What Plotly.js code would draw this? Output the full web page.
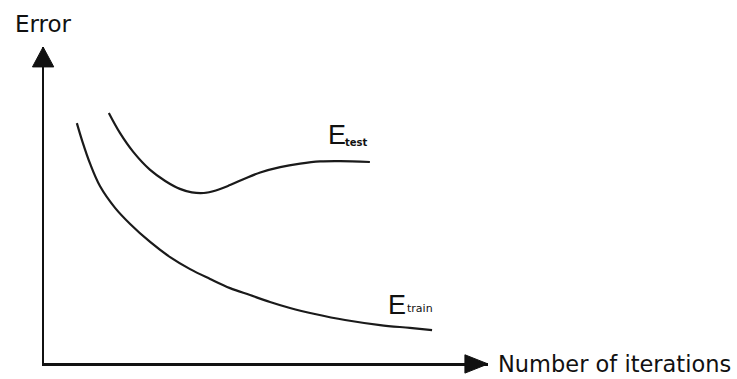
<!DOCTYPE html>
<html>
<head>
<meta charset="utf-8">
<script src="https://cdn.plot.ly/plotly-3.0.1.min.js"></script>
<style>
html,body{margin:0;padding:0;background:#fff;}
#chart{width:737px;height:379px;}
</style>
</head>
<body>
<div id="chart"></div>
<script>
// Values (arbitrary units, 0-100 on both axes)
var trainIterations = [7.4, 8.6, 10.4, 12.6, 16.0, 19.4, 23.9, 28.4, 32.9, 37.4, 41.9, 46.4, 50.9, 55.4, 61.0, 67.8, 75.7, 82.4, 87.4];
var trainError      = [75.9, 70.3, 63.0, 56.0, 49.1, 44.0, 38.3, 33.5, 29.7, 26.6, 23.7, 21.5, 19.3, 17.4, 15.5, 13.6, 12.0, 11.1, 10.4];

var testIterations  = [14.6, 17.1, 20.1, 23.9, 27.3, 30.6, 33.3, 36.0, 38.7, 41.9, 45.3, 48.7, 53.2, 57.7, 62.2, 66.7, 73.4];
var testError       = [79.1, 72.8, 66.8, 61.1, 57.6, 55.1, 54.0, 53.8, 54.6, 56.3, 58.4, 60.3, 62.0, 63.1, 63.8, 63.9, 63.6];

var xAxisLabel = "Number of iterations";
var yAxisLabel = "Error";
var trainLabel = ["E", "train"];
var testLabel  = ["E", "test"];

var lineStyle = {color: '#1a1a1a', width: 2.2, shape: 'spline', smoothing: 1};

var traces = [
  {x: trainIterations, y: trainError, mode: 'lines', line: lineStyle, name: 'E train', hoverinfo: 'skip'},
  {x: testIterations,  y: testError,  mode: 'lines', line: lineStyle, name: 'E test',  hoverinfo: 'skip'}
];

var axisCommon = {
  range: [0, 100], showline: true, linecolor: '#111', linewidth: 2.5,
  showgrid: false, zeroline: false, showticklabels: false, ticks: '', fixedrange: true
};

var txt = '#111';
var layout = {
  width: 737, height: 379,
  margin: {l: 44, r: 249, t: 47, b: 16},
  paper_bgcolor: '#fff', plot_bgcolor: '#fff',
  showlegend: false,
  xaxis: axisCommon,
  yaxis: axisCommon,
  shapes: [
    {type: 'path', xref: 'paper', yref: 'paper', path: 'M 0.948 0.026 L 1.0 -0.003 L 0.948 -0.032 Z',
     fillcolor: '#111', line: {color: '#111', width: 1}},
    {type: 'path', xref: 'paper', yref: 'paper', path: 'M -0.026 0.937 L -0.002 1.0 L 0.022 0.937 Z',
     fillcolor: '#111', line: {color: '#111', width: 1}}
  ],
  annotations: [
    {text: yAxisLabel, xref: 'paper', yref: 'paper', x: -0.001, y: 1.073, xanchor: 'center', yanchor: 'middle',
     showarrow: false, font: {family: 'DejaVu Sans', size: 23, color: txt}},
    {text: xAxisLabel, xref: 'paper', yref: 'paper', x: 1.019, y: -0.004, xanchor: 'left', yanchor: 'middle',
     showarrow: false, font: {family: 'DejaVu Sans', size: 22.5, color: txt}},
    {text: testLabel[0], xref: 'paper', yref: 'paper', x: 0.636, y: 0.7215, xanchor: 'left', yanchor: 'middle',
     showarrow: false, font: {family: 'Liberation Sans Narrow, Liberation Sans', size: 27, color: txt}},
    {text: '<b>' + testLabel[1] + '</b>', xref: 'paper', yref: 'paper', x: 0.674, y: 0.699, xanchor: 'left', yanchor: 'middle',
     showarrow: false, font: {family: 'DejaVu Sans', size: 10, color: txt}},
    {text: trainLabel[0], xref: 'paper', yref: 'paper', x: 0.770, y: 0.1835, xanchor: 'left', yanchor: 'middle',
     showarrow: false, font: {family: 'Liberation Sans Narrow, Liberation Sans', size: 27, color: txt}},
    {text: trainLabel[1], xref: 'paper', yref: 'paper', x: 0.812, y: 0.174, xanchor: 'left', yanchor: 'middle',
     showarrow: false, font: {family: 'DejaVu Sans', size: 11, color: txt}}
  ]
};

Plotly.newPlot('chart', traces, layout, {displayModeBar: false, staticPlot: true});
</script>
</body>
</html>
